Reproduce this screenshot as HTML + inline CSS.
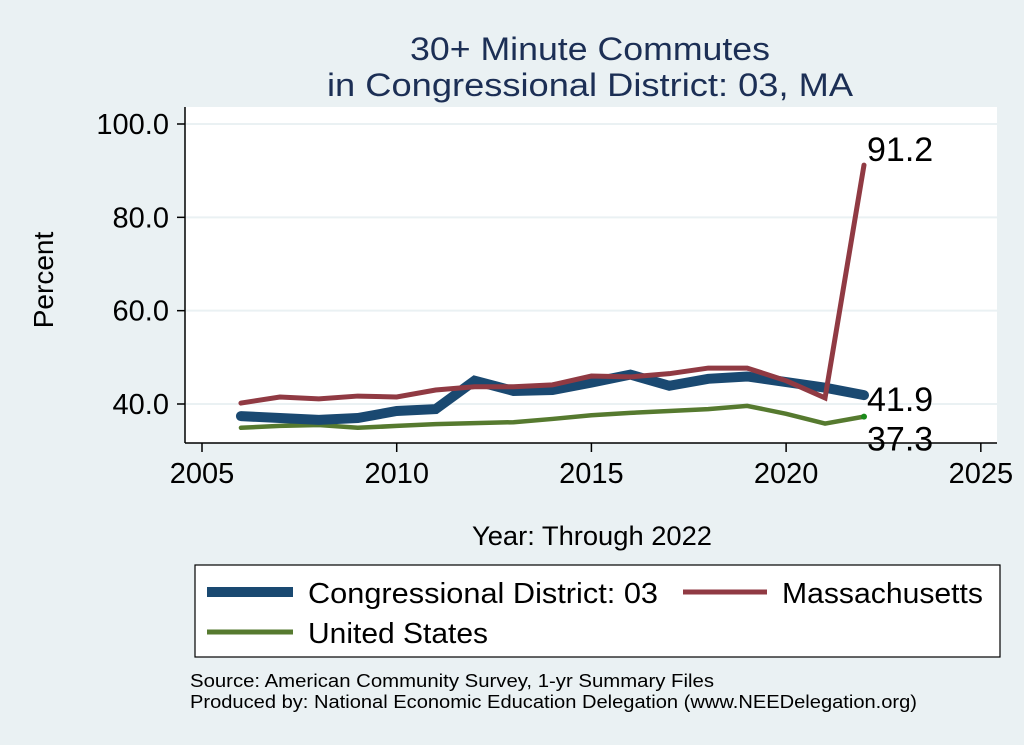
<!DOCTYPE html>
<html><head><meta charset="utf-8"><style>
body{margin:0;background:#eaf1f3;}
svg{display:block;font-family:"Liberation Sans",Arial,sans-serif;}
</style></head><body>
<svg id="chart" width="1024" height="745" viewBox="0 0 1024 745">
<rect x="0" y="0" width="1024" height="745" fill="#eaf1f3"/>
<text x="590" y="60" text-anchor="middle" font-size="32" fill="#1c2f55" textLength="360" lengthAdjust="spacingAndGlyphs">30+ Minute Commutes</text>
<text x="590" y="96" text-anchor="middle" font-size="32" fill="#1c2f55" textLength="526" lengthAdjust="spacingAndGlyphs">in Congressional District:  03, MA</text>
<rect x="185" y="107" width="812" height="336" fill="#fff"/>
<g id="grid"></g>
<g id="series"></g>
<line x1="185" y1="107" x2="185" y2="443" stroke="#000" stroke-width="1.5"/>
<line x1="185" y1="443" x2="997" y2="443" stroke="#000" stroke-width="1.5"/>
<g id="axes"></g>
<text transform="translate(53,280) rotate(-90)" text-anchor="middle" font-size="28" fill="#000">Percent</text>
<text x="592" y="545" text-anchor="middle" font-size="27" fill="#000" textLength="240" lengthAdjust="spacingAndGlyphs">Year: Through 2022</text>
<g>
<rect x="195" y="565" width="805" height="92" fill="#fff" stroke="#000" stroke-width="1.2"/>
<line x1="207" y1="592" x2="293" y2="592" stroke="#1a4971" stroke-width="10"/>
<text x="308" y="603" font-size="29" textLength="350" lengthAdjust="spacingAndGlyphs">Congressional District:  03</text>
<line x1="683" y1="592" x2="767" y2="592" stroke="#903a43" stroke-width="5"/>
<text x="782" y="603" font-size="29" textLength="201" lengthAdjust="spacingAndGlyphs">Massachusetts</text>
<line x1="207" y1="632" x2="293" y2="632" stroke="#567a2f" stroke-width="5"/>
<text x="308" y="643" font-size="29" textLength="180" lengthAdjust="spacingAndGlyphs">United States</text>
</g>
<text x="190" y="687" font-size="18" textLength="524" lengthAdjust="spacingAndGlyphs">Source: American Community Survey, 1-yr Summary Files</text>
<text x="190" y="708" font-size="18" textLength="727" lengthAdjust="spacingAndGlyphs">Produced by: National Economic Education Delegation (www.NEEDelegation.org)</text>
</svg>
<script>
const years=[2006,2007,2008,2009,2010,2011,2012,2013,2014,2015,2016,2017,2018,2019,2020,2021,2022];
const district=[37.4,37.0,36.6,37.0,38.5,38.9,45.0,42.8,43.0,44.6,46.3,43.9,45.4,45.9,44.7,43.5,41.9];
const massachusetts=[40.2,41.5,41.1,41.7,41.5,43.0,43.7,43.7,44.1,46.0,45.8,46.5,47.7,47.7,45.0,41.3,91.2];
const unitedStates=[34.9,35.3,35.5,34.9,35.3,35.7,35.9,36.1,36.8,37.6,38.1,38.5,38.9,39.6,37.9,35.8,37.3];
const yTicks=[40,60,80,100];
const xTicks=[2005,2010,2015,2020,2025];
const NS="http://www.w3.org/2000/svg";
function xs(v){return 202+(v-2005)*(864-202)/17;}
function ys(v){return 404-(v-40)*(404-124)/60;}
function mk(tag,attrs,parent){const e=document.createElementNS(NS,tag);for(const k in attrs)e.setAttribute(k,attrs[k]);parent.appendChild(e);return e;}
const grid=document.getElementById('grid'),axes=document.getElementById('axes'),ser=document.getElementById('series');
yTicks.forEach(t=>{
 const g=mk('line',{x1:186,x2:997,y1:ys(t),y2:ys(t),stroke:'#eaf1f3','stroke-width':2},grid);
 
 
 const tk=mk('line',{x1:177,x2:185,y1:ys(t),y2:ys(t),stroke:'#000','stroke-width':1.5},axes);
 
 
 const tx=mk('text',{x:169,y:ys(t)+10,'text-anchor':'end','font-size':29},axes);
 tx.textContent=t.toFixed(1);
 
 
});
xTicks.forEach(t=>{
 const tk=mk('line',{x1:xs(t),x2:xs(t),y1:443,y2:452,stroke:'#000','stroke-width':1.5},axes);
 
 
 const tx=mk('text',{x:xs(t),y:483,'text-anchor':'middle','font-size':29},axes);
 tx.textContent=t;
 
 
});
function line(data,color,w,name){
 const p=mk('polyline',{points:data.map((v,i)=>xs(years[i])+','+ys(v)).join(' '),fill:'none',stroke:color,'stroke-width':w,'stroke-linejoin':'miter','stroke-linecap':'round'},ser);
 
 
}
line(unitedStates,'#567a2f',4.5,'us-line');
line(district,'#1a4971',10,'district-line');
line(massachusetts,'#903a43',5,'ma-line');
const last=years.length-1;
const dot=mk('circle',{cx:xs(years[last]),cy:ys(unitedStates[last]),r:3,fill:'#1a8a1a'},ser);


[[massachusetts,-4,'ma-end-label'],[district,16,'district-end-label'],[unitedStates,34,'us-end-label']].forEach(([d,dy,n])=>{
 const t=mk('text',{x:xs(years[last])+3,y:ys(d[last])+dy,'font-size':34},ser);
 t.textContent=d[last].toFixed(1);
 
 
});
</script>
</body></html>
